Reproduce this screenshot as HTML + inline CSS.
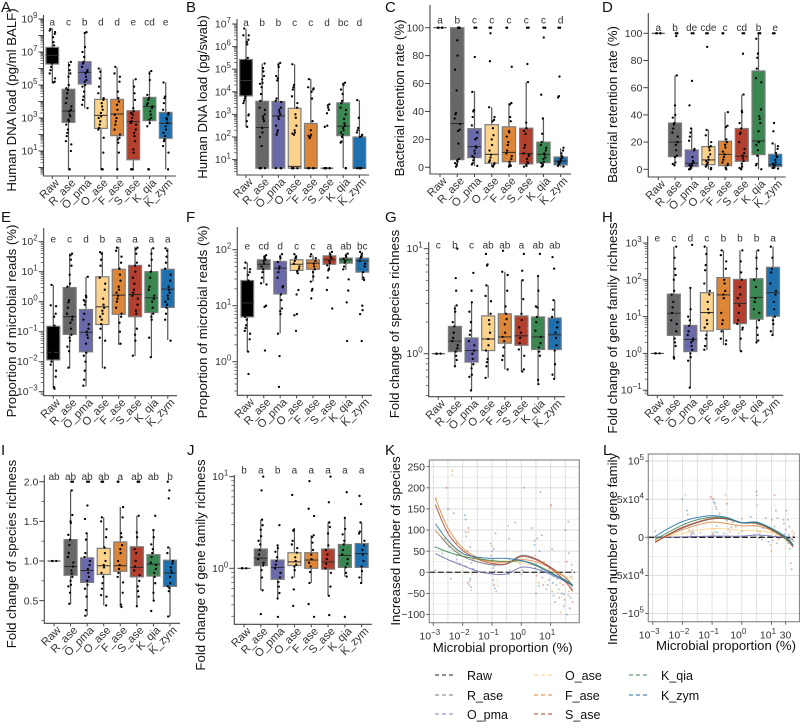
<!DOCTYPE html>
<html>
<head>
<meta charset="utf-8">
<title>Microbial enrichment boxplots</title>
<style>
html,body{margin:0;padding:0;background:#fff;}
svg{display:block;font-family:"Liberation Sans",sans-serif;}
.letter{font-size:15px;fill:#111;}
.title{font-size:13.2px;fill:#111;text-anchor:middle;}
.leg{font-size:12.5px;fill:#111;}
</style>
</head>
<body>
<svg id="chart" width="800" height="728" viewBox="0 0 800 728" xmlns="http://www.w3.org/2000/svg">
<rect width="800" height="728" fill="#fff"/>
<g id="marks"></g>
<text class="letter" x="1" y="12">A</text>
<text class="letter" x="186" y="12">B</text>
<text class="letter" x="385" y="12">C</text>
<text class="letter" x="602" y="12">D</text>
<text class="letter" x="1" y="222">E</text>
<text class="letter" x="186" y="222">F</text>
<text class="letter" x="385" y="222">G</text>
<text class="letter" x="602" y="222">H</text>
<text class="letter" x="1" y="455">I</text>
<text class="letter" x="187" y="455">J</text>
<text class="letter" x="385" y="455">K</text>
<text class="letter" x="603" y="455">L</text>

<text class="title" transform="translate(16,100) rotate(-90)">Human DNA load (pg/ml BALF)</text>
<text class="title" transform="translate(207,97) rotate(-90)">Human DNA load (pg/swab)</text>
<text class="title" transform="translate(404,98) rotate(-90)">Bacterial retention rate (%)</text>
<text class="title" transform="translate(617,104.5) rotate(-90)">Bacterial retention rate (%)</text>
<text class="title" transform="translate(16,321) rotate(-90)">Proportion of microbial reads (%)</text>
<text class="title" transform="translate(207,322) rotate(-90)">Proportion of microbial reads (%)</text>
<text class="title" transform="translate(399,324) rotate(-90)">Fold change of species richness</text>
<text class="title" transform="translate(617,328) rotate(-90)">Fold change of gene family richness</text>
<text class="title" transform="translate(16,554) rotate(-90)">Fold change of species richness</text>
<text class="title" transform="translate(205,565) rotate(-90)">Fold change of gene family richness</text>
<text class="title" transform="translate(400,541) rotate(-90)">Increased number of species</text>
<text class="title" transform="translate(617,549) rotate(-90)">Increased number of gene family</text>
<text class="title" x="502.7" y="652">Microbial proportion (%)</text>
<text class="title" x="726" y="650">Microbial proportion (%)</text>

<g>
<line x1="435" x2="455" y1="675" y2="675" stroke="#000" stroke-width="1.3" stroke-dasharray="4 3" opacity=".7"/>
<text class="leg" x="467" y="680">Raw</text>
<line x1="435" x2="455" y1="695" y2="695" stroke="#666" stroke-width="1.3" stroke-dasharray="4 3" opacity=".7"/>
<text class="leg" x="467" y="700">R_ase</text>
<line x1="435" x2="455" y1="714" y2="714" stroke="#6a6aab" stroke-width="1.3" stroke-dasharray="4 3" opacity=".7"/>
<text class="leg" x="467" y="719">O_pma</text>
<line x1="534" x2="554" y1="675" y2="675" stroke="#fdd28a" stroke-width="1.3" stroke-dasharray="4 3" opacity=".8"/>
<text class="leg" x="565" y="680">O_ase</text>
<line x1="534" x2="554" y1="695" y2="695" stroke="#dd8638" stroke-width="1.3" stroke-dasharray="4 3" opacity=".8"/>
<text class="leg" x="565" y="700">F_ase</text>
<line x1="534" x2="554" y1="714" y2="714" stroke="#b33f2e" stroke-width="1.3" stroke-dasharray="4 3" opacity=".8"/>
<text class="leg" x="565" y="719">S_ase</text>
<line x1="629" x2="649" y1="675" y2="675" stroke="#3b8752" stroke-width="1.3" stroke-dasharray="4 3" opacity=".8"/>
<text class="leg" x="661" y="680">K_qia</text>
<line x1="629" x2="649" y1="695" y2="695" stroke="#1f70ae" stroke-width="1.3" stroke-dasharray="4 3" opacity=".8"/>
<text class="leg" x="661" y="700">K_zym</text>
</g>
</svg>

<script>
const categories = ["Raw","R_ase","O_pma","O_ase","F_ase","S_ase","K_qia","K_zym"];
const groupColors = ["#000000","#67676a","#6a6aab","#fdd28a","#dd8638","#b33f2e","#3b8752","#1f70ae"];

/* Panel A, values are log10 */
const aLetters = ["a","c","b","d","d","e","cd","e"];
const aQ1 = [6.27,2.74,5.06,2.37,1.93,0.47,2.84,1.77];
const aMed = [6.8,3.42,5.77,3.16,3.24,2.78,3.69,2.68];
const aQ3 = [7.28,4.74,6.41,4.13,4.13,3.44,4.25,3.34];
const aLo = [5.14,-0.11,3.59,-0.11,-0.11,-0.11,2.6,-0.11];
const aHi = [8.43,6.41,8.17,6,6.07,5.34,5.85,5.16];
const aPoints = [
[8.4,8.3,8.2,8.1,7.9,7.6,7.4,7.2,6.9,6.6,6.3,6.1,5.9,5.7,5.4,5.2,5.15],
[6.4,6.2,5.9,5.7,5.5,5,4.8,4.7,4.5,4.2,3.9,3.7,3.5,3.4,3.2,3.1,2.9,2.8,2.6,2.3,2.1,1.9,1.6,1.4,1,-.11,-.11],
[8.2,8.15,7.3,7,6.7,6.4,6.3,6.1,5.9,5.8,5.7,5.5,5.3,5.2,5,4.9,4.6,4.3,4.1,3.8,3.6],
[6,5.8,5.4,4.9,4.5,4.2,4.1,3.9,3.7,3.5,3.3,3.1,3,2.8,2.6,2.4,2.3,1.8,.9,-.11,-.11,-.11],
[6.1,5.7,5.5,5.2,4.6,4.2,4,3.8,3.5,3.2,3,2.8,2.6,2.3,2,1.8,1.7,1.5,.9,-.11,-.11],
[5.35,4.9,4.5,4.1,3.6,3.4,3.3,3.2,3,2.8,2.7,2.6,2.3,2.1,1.9,1.6,1.1,.9,-.11,-.11,-.11],
[5.85,5.7,5.3,4.4,4.2,4.1,3.9,3.8,3.7,3.6,3.4,3.2,3,2.9,2.7,2.5,-.11,-.11],
[5.15,4.3,4.2,3.9,3.5,3.3,3.2,3,2.9,2.7,2.5,2.3,2.1,1.9,1.7,1.6,1.3,.9,-.11]];
const aTicks = [9,8,7,6,5,4,3,2,1,0];
const aTickLabels = ["9","","7","","5","","3","","1",""];

/* Panel B, log10 */
const bLetters = ["a","b","b","c","c","d","bc","d"];
const bQ1 = [3.82,.62,.62,.62,.62,.62,2.06,.62];
const bMed = [4.5,2.42,2.93,.7,.62,.62,2.48,.62];
const bQ3 = [5.43,3.58,3.57,3.27,2.6,.62,3.51,2];
const bLo = [2.45,.62,.62,.62,.62,.62,.62,.62];
const bHi = [6.78,5.25,5.28,5.22,4.56,.62,4.4,3.63];
const bPoints = [
[6.8,6.5,6.5,6.3,6.2,6.1,5.5,5.4,4.6,4.2,3.8,3.7,3.6,3.5,3.0,2.95,2.7,2.45],
[5.25,5.05,4.9,4.7,4.55,4.4,4.35,4.2,3.9,3.6,3.3,3.2,3,2.9,2.8,2.7,2.4,2.2,2,1.6,.62,.62,.62,.62],
[5.28,5.2,5.1,4.7,4.6,4.5,3.7,3.6,3.55,3.3,3.2,3.1,3,2.9,2.8,2.5,2.3,2.2,2.1,.62,.62,.62],
[5.22,4.3,4.2,4.1,3.8,3.5,3.3,3,2.85,2.5,2.3,2.2,2.15,2.1,.62,.62,.62,.62],
[4.56,4.2,4.15,4.1,4,3.7,2.7,2.3,2.1,2.05,2,1.95,.62,.62,.62,.62],
[3.45,3.4,3.3,3.2,3.05,2.5,2.45,.62,.62,.62,.62,.62,.62],
[4.4,4.35,4.3,4.1,3.9,3.6,3.5,3.3,3.2,3,2.8,2.6,2.5,2.4,2.3,2.2,2.1,2,1.8,1.75,.62,.62],
[3.63,2.85,2.4,2.3,2.2,2.1,2.05,2,.62,.62,.62,.62,.62]];
const bTicks = [7,6,5,4,3,2,1];
const bTickLabels = ["7","6","5","4","3","2","1"];

/* Panel C, percent */
const cLetters = ["a","b","c","c","c","c","c","d"];
const cQ1 = [100,5.5,6.9,2.9,4,2.4,3.3,1.7];
const cMed = [100,31.3,14.8,9.3,10.7,9.8,9.3,4.5];
const cQ3 = [100,100,27.7,30.5,29,28,18,7.4];
const cLo = [100,.5,1,.5,.5,.5,.5,.5];
const cHi = [100,100,54.6,43,46,61,35,13.6];
const cPoints = [
[100,100,100,100],
[100,100,100,100,91,80,70,55,39,38,35,31,27,26,17,6,5,4,3,2,.5],
[100,100,79,54,41,40,36,30,25,21,20,15,14,12,10,8,7,5,3,2,1],
[100,100,96,76,43,36,34,33,28,23,20,16,12,9,7,5,4,3,2,1,.5],
[100,100,72,46,45,36,33,26,25,22,18,16,12,10,8,6,4,2,1,.5],
[100,100,74,61,32,28,26,24,16,14,10,9,8,6,4,3,2,1,.5],
[100,100,93,52,35,24,18,16,14,12,10,9,7,6,4,3,2,1,.5],
[100,100,65,51,50,14,12,10,8,7,6,5,4,4,3,2,1,.5]];
const cTicks = [100,80,60,40,20,0];
const cTickLabels = ["100","80","60","40","20","0"];

/* Panel D, percent */
const dLetters = ["a","b","de","cde","c","cd","b","e"];
const dQ1 = [100,9.3,2,3.4,2.7,5.9,10.8,2];
const dMed = [100,20,4.4,6.9,11,9.6,20.8,3.4];
const dQ3 = [100,34,14.2,16.7,20.6,30,72.3,11];
const dLo = [100,3.2,0,0,.5,0,0,.5];
const dHi = [100,69,30,29,42,55,100,19];
const dPoints = [
[100,100,100,100],
[100,100,98,69,47,40,38,34,33,30,27,24,20,18,14,10,9,5,4,3],
[100,100,65,47,30,27,24,21,15,14,9,6,5,4,3,3,2,1,0,0],
[100,100,90,29,25,20,17,16,14,11,9,7,6,5,4,3,2,1,0],
[100,100,42,32,31,22,20,18,16,13,11,9,7,5,4,3,1,0],
[100,100,85,55,43,42,34,30,27,26,20,15,12,10,8,6,4,2,1,0],
[100,100,100,96,85,82,74,67,64,44,39,37,34,28,20,18,14,10,4,3,0],
[100,100,34,28,19,17,15,12,10,9,7,5,4,3,2,1,1,.5]];
const dTicks = [100,80,60,40,20,0];
const dTickLabels = ["100","80","60","40","20","0"];

/* Panel E, log10 */
const eLetters = ["e","c","d","b","a","a","a","a"];
const eQ1 = [-1.94,-1.09,-1.67,-.76,-.42,-.5,-.36,-.19];
const eMed = [-1.69,-.5,-1.02,-.17,.22,.24,.13,.42];
const eQ3 = [-.82,.47,-.26,.83,1.08,1.21,1,1.08];
const eLo = [-2.89,-2.22,-2.83,-2.22,-1.44,-1.81,-1.83,-1.28];
const eHi = [.56,1.61,.83,1.67,1.83,1.83,1.78,1.78];
const ePoints = [
[.56,-.12,-.15,-.4,-.5,-.8,-1,-1.2,-1.5,-1.6,-1.7,-1.9,-2,-2.1,-2.3,-2.5,-2.85,-2.9],
[1.6,1.55,1.4,1.2,.9,.6,.5,.05,-.02,-.2,-.4,-.5,-.6,-.7,-.9,-1.1,-1.2,-1.3,-1.5,-1.65,-2.2],
[.83,.2,.15,.05,0,-.1,-.4,-.6,-.75,-.9,-1,-1.1,-1.2,-1.4,-1.7,-1.8,-2,-2.3,-2.6,-2.8],
[1.65,1.6,1.4,1.2,.8,.6,.4,.1,-.1,-.2,-.3,-.4,-.5,-.6,-.75,-.9,-1.2,-1.3,-2.2],
[1.8,1.7,1.5,1.3,1.1,.9,.7,.5,.4,.3,.2,.1,0,-.2,-.4,-.5,-.7,-1,-1.4],
[1.8,1.75,1.6,1.3,1.2,1,.8,.6,.4,.3,.2,.1,-.1,-.3,-.4,-.9,-1.1,-1.3,-1.8],
[1.78,1.6,1.4,1.2,1,.8,.5,.4,.2,.1,0,-.2,-.4,-.5,-.6,-1.2,-1.85],
[1.78,1.7,1.5,1.3,1.1,.9,.7,.5,.4,.3,.2,.1,0,-.1,-.2,-.4,-.6,-1.3]];
const eTicks = [2,1,0,-1,-2,-3];
const eTickLabels = ["2","1","0","\u22121","\u22122","\u22123"];

/* Panel F, log10 */
const fLetters = ["e","cd","d","c","c","a","ab","bc"];
const fQ1 = [.8,1.65,1.21,1.63,1.65,1.74,1.76,1.6];
const fMed = [1.05,1.74,1.67,1.74,1.76,1.82,1.82,1.8];
const fQ3 = [1.45,1.82,1.79,1.82,1.82,1.89,1.85,1.85];
const fLo = [.18,1.4,.51,1.58,1.43,1.63,1.64,1.46];
const fHi = [1.77,1.88,1.9,1.9,1.9,1.96,1.93,1.96];
const fPoints = [
[1.77,1.67,1.65,1.6,1.55,1.45,1.3,1.1,.9,.8,.75,.65,.6,.55,.5,.4,.18,-.22],
[1.9,1.88,1.85,1.82,1.8,1.75,1.7,1.65,1.6,1.5,1.4,1.38,1,.98,.2],
[1.92,1.88,1.85,1.78,1.7,1.66,1.6,1.5,1.35,1.33,1.2,1.1,.95,.9,.85,.5,.1,-.45],
[1.92,1.88,1.85,1.8,1.75,1.7,1.66,1.62,1.58,1.28,1.2,.85,.83,.55],
[1.92,1.88,1.85,1.8,1.75,1.7,1.65,1.6,1.52,1.43,1.3,1.27,1.13],
[1.96,1.92,1.88,1.85,1.8,1.76,1.72,1.66,1.63,1.5,1.28,.95],
[1.93,1.9,1.87,1.84,1.8,1.77,1.7,1.65,1.47,1.27,1.06,.37],
[1.96,1.92,1.88,1.85,1.8,1.75,1.7,1.6,1.5,1.46,1.0,.92,.85,.37]];
const fTicks = [2,1,0];
const fTickLabels = ["2","1","0"];

/* Panel G, log10 */
const gLetters = ["c","b","c","ab","ab","a","ab","ab"];
const gQ1 = [0,.02,-.08,.03,.1,.08,.04,.04];
const gMed = [0,.12,.03,.14,.16,.17,.16,.18];
const gQ3 = [0,.26,.15,.36,.38,.36,.35,.34];
const gLo = [0,-.12,-.35,-.23,-.15,-.17,-.29,-.24];
const gHi = [0,.46,.49,.65,.78,.7,.74,.51];
const gPoints = [
[0,0,0],
[1,.72,.6,.46,.43,.4,.3,.26,.2,.15,.12,.08,.05,.02,-.02,-.06,-.12],
[.77,.6,.49,.4,.3,.22,.18,.12,.08,.03,0,-.05,-.1,-.14,-.2,-.22,-.35],
[.95,.85,.84,.65,.55,.5,.38,.32,.28,.2,.14,.08,.03,-.05,-.08,-.12,-.23],
[.98,.78,.75,.6,.45,.38,.33,.28,.2,.16,.12,.06,-.02,-.06,-.15],
[.95,.79,.7,.52,.38,.32,.25,.2,.15,.1,.04,-.02,-.15,-.17],
[.95,.74,.6,.45,.44,.35,.3,.22,.16,.1,.06,.02,-.02,-.25,-.29],
[.92,.81,.51,.42,.35,.3,.25,.2,.15,.08,.03,-.1,-.2,-.24]];
const gTicks = [1,0];
const gTickLabels = ["1","0"];

/* Panel H, log10 */
const hLetters = ["e","c","d","c","b","b","b","a"];
const hQ1 = [0,.49,.05,.61,.65,.81,.93,1.01];
const hMed = [0,1.09,.38,1.11,1.59,1.36,1.52,1.65];
const hQ3 = [0,1.61,.76,1.65,2.06,2.01,2.03,2.34];
const hLo = [0,-.14,-.93,.09,.23,.06,.29,.47];
const hHi = [0,2.9,1.78,2.9,2.8,2.8,2.8,2.9];
const hPoints = [
[0,0,0],
[2.9,2.6,2.3,2.13,2,1.7,1.6,1.4,1.25,1.1,.9,.8,.6,.4,.3,.2,-.1,-.14],
[2.95,1.78,1.2,1,.9,.75,.6,.5,.4,.35,.3,.2,.1,0,-.1,-.2,-.93],
[2.9,2.7,2.4,2.26,1.9,1.7,1.6,1.4,1.2,1.1,.9,.8,.7,.5,.4,.2,.1],
[2.8,2.67,2.5,2.3,2,1.9,1.7,1.6,1.5,1.1,.9,.8,.6,.4,.35,.25],
[2.8,2.5,2.2,2,1.8,1.6,1.5,1.3,1.1,.9,.8,.7,.65,.4,.06],
[2.8,2.6,2.3,2,1.8,1.5,1.4,1.2,1.1,.9,.7,.5,.35,.3],
[2.9,2.6,2.3,2.2,1.9,1.7,1.6,1.4,1.2,1,.9,.8,.6,.5]];
const hTicks = [3,2,1,0,-1];
const hTickLabels = ["3","2","1","0","\u22121"];

/* Panel I, fold change */
const iLetters = ["ab","ab","ab","ab","a","ab","ab","b"];
const iQ1 = [1,.82,.73,.83,.87,.8,.81,.68];
const iMed = [1,.93,.88,.94,.94,.92,.96,.85];
const iQ3 = [1,1.27,1.04,1.16,1.24,1.18,1.08,1.01];
const iLo = [1,.46,.31,.44,.42,.42,.5,.3];
const iHi = [1,1.89,1.35,1.55,1.68,1.57,1.39,1.17];
const iPoints = [
[1,1,1],
[2,2,1.89,1.58,1.5,1.48,1.33,1.27,1.2,1.1,1.05,.98,.93,.88,.84,.8,.75,.7,.68,.6,.46],
[2,2,1.7,1.53,1.35,1.27,1.1,1.05,1,.95,.9,.85,.8,.75,.7,.65,.55,.38,.31],
[2,2,2,1.55,1.5,1.4,1.3,1.17,1.1,1,.95,.92,.85,.8,.72,.65,.57,.55,.44],
[2,2,1.68,1.55,1.35,1.3,1.2,1.15,1.1,1,.95,.9,.85,.8,.73,.6,.45,.42],
[2,2,2,1.57,1.36,1.3,1.15,1.1,1,.93,.88,.82,.75,.68,.62,.55,.43],
[1.57,1.39,1.3,1.21,1.15,1.1,1.05,.98,.95,.9,.85,.8,.72,.6,.5,.37],
[2,1.89,1.79,1.17,1.1,1,.97,.92,.88,.85,.8,.72,.68,.66,.62,.3]];
const iTicks = [2,1.5,1,.5];
const iTickLabels = ["2.0","1.5","1.0","0.5"];

/* Panel J, log10 */
const jLetters = ["b","a","b","a","a","a","a","a"];
const jQ1 = [0,.03,-.12,.03,0,-.01,.01,.01];
const jMed = [0,.11,.01,.07,.09,.07,.14,.16];
const jQ3 = [0,.21,.09,.17,.17,.21,.26,.27];
const jLo = [0,-.24,-.33,-.1,-.16,-.3,-.09,-.16];
const jHi = [0,.53,.25,.44,.36,.5,.55,.5];
const jPoints = [
[0,0,0],
[1.0,.85,.53,.47,.42,.35,.3,.26,.2,.15,.1,.06,.03,-.02,-.1,-.24,-.5],
[.47,.25,.22,.18,.12,.08,.04,0,-.05,-.1,-.15,-.2,-.27,-.33,-.53],
[.8,.42,.41,.3,.26,.22,.17,.12,.08,.04,.02,-.02,-.1,-.23,-.41],
[.95,.65,.57,.36,.34,.28,.2,.15,.1,.06,.02,-.04,-.16,-.39,-.53],
[1,.72,.5,.45,.38,.25,.2,.15,.1,.05,0,-.05,-.2,-.3,-.51],
[.83,.55,.43,.37,.3,.26,.2,.15,.1,.05,.01,-.05,-.09,-.53],
[.79,.7,.5,.4,.38,.3,.25,.2,.15,.08,.02,-.03,-.1,-.16]];
const jTicks = [1,0];
const jTickLabels = ["1","0"];

/* Panel K: fitted curves, by group, at the shared x grid (log10 %) */
const kGridExp = [-2.93,-2.5,-2,-1.5,-1,-.5,0,.5,1,1.5,1.75];
const kRaw = [0,0,0,0,0,0,0,0,0,0,0];
const kRase = [100,65,38,25,18,20,40,32,12,-12,-32];
const kOpma = [44,30,16,3,-4,-4,12,8,-5,-22,-33];
const kOase = [100,70,42,30,26,27,22,15,3,-10,-15];
const kFase = [175,105,58,35,25,24,30,25,10,-12,-32];
const kSase = [160,92,52,32,21,20,37,30,10,-22,-45];
const kKqia = [60,48,38,32,28,25,27,18,0,-20,-32];
const kKzym = [115,75,45,36,33,33,28,16,-2,-18,-30];
/* Panel K scatter rows: log10 %, value, group index */
const kScatter = [
[-2.93,215,3],[-2.93,100,3],[-2.93,60,6],[-2.93,30,3],[-2.93,5,2],[-2.9,95,4],[-2.9,175,4],[-2.55,200,5],[-2.5,150,7],[-2.5,95,4],[-2.45,60,1],[-2.4,-15,2],[-2.3,140,7],[-2.3,115,3],[-2.2,70,1],[-2.2,40,6],
[-2.35,240,4],[-2.35,230,4],[-2.6,80,5],[-2.7,45,6],[-2.2,30,2],[-2.1,20,1],[-2,5,3],
[-1.95,175,3],[-1.92,135,7],[-1.9,125,7],[-1.9,95,1],[-1.88,85,6],[-1.8,105,5],[-1.8,95,4],[-1.75,60,1],[-1.75,40,3],[-1.75,-20,2],[-1.72,-35,1],[-1.7,-42,4],[-1.7,22,7],[-1.65,8,2],[-1.9,15,5],[-1.85,50,6],
[-1.82,-25,5],[-1.78,-30,2],[-1.74,-15,7],[-1.7,70,3],[-1.68,-5,4],[-1.66,30,1],[-1.62,5,6],
[-1.05,68,7],[-1.03,140,3],[-1,62,4],[-1,50,2],[-.97,30,6],[-.95,10,1],[-.95,-10,3],[-.93,-30,5],[-.9,-38,7],[-.88,92,7],[-.85,-45,2],[-.8,-32,4],[-.6,48,3],
[-1.02,40,5],[-1,22,3],[-.98,-2,7],[-.96,-18,1],[-.94,55,1],[-.92,15,6],[-.9,3,2],[-.84,-20,3],
[-.45,110,4],[-.42,80,5],[-.4,30,7],[-.38,5,2],[-.2,118,7],[-.15,48,3],[0,-5,1],[.1,200,1],[.35,105,7],[.45,75,2],
[-.42,-5,6],[-.38,15,3],[-.05,20,4],[.05,5,7],
[.45,65,7],[.47,40,4],[.5,20,1],[.5,-20,3],[.5,-50,2],[.55,80,6],[.6,-25,4],[.6,-32,7],[.65,190,5],[.7,88,1],[.7,65,3],[.75,-30,5],[.85,-40,2],[.95,-18,7],
[.48,10,6],[.52,-8,5],[.56,30,3],[.62,50,7],[.68,5,2],[.72,-12,1],[.78,25,4],[.82,-22,3],[.9,-30,6],[.95,8,5],
[1,155,4],[1.02,160,5],[1.05,55,7],[1.05,-45,4],[1.1,-10,6],[1.1,-55,1],[1.15,-70,5],[1.2,-30,2],[1.25,-48,3],[1.3,-60,5],[1.35,-95,4],[1.4,40,3],[1.45,-52,7],[1.45,-80,2],[1.5,100,7],[1.55,25,5],[1.55,-100,7],[1.6,120,7],[1.6,-55,1],[1.62,45,6],[1.65,-85,5],[1.65,-20,3],[1.7,-35,2],[1.72,5,5],[1.75,-70,5],[1.75,-15,3],
[1.08,-25,7],[1.14,-38,3],[1.22,-15,1],[1.28,-40,6],[1.32,-25,4],[1.38,-50,7],[1.42,-30,5],[1.48,-65,1],[1.52,-42,3],[1.58,-25,2],[1.62,-45,4],[1.68,-60,7],[1.7,-10,6],[1.72,18,1],[1.74,-40,4]];
const kYTicks = [250,200,150,100,50,0,-50,-100];
const kYGrid = [250,225,200,175,150,125,100,75,50,25,0,-25,-50,-75,-100];
const kYTickLabels = ["250","200","150","100","50","0","\u221250","\u2212100"];
const kXTicks = [-3,-2,-1,0,1];
const kXGrid = [-3,-2.5,-2,-1.5,-1,-.5,0,.5,1,1.5];
const kXTickLabels = ["\u22123","\u22122","\u22121","0","1"];

/* Panel L: fitted curves (units of 10^4 genes) */
const lGridExp = [-2.92,-2.5,-2,-1.5,-1,-.5,0,.5,1,1.5,1.73];
const lRaw = [0,0,0,0,0,0,0,0,0,0,0];
const lRase = [-.5,.3,1.2,1.9,2.4,2.4,1.9,1.9,1.1,-.1,-1.1];
const lOpma = [-.05,0,.05,.1,.15,.15,.15,.3,.15,-.1,-.3];
const lOase = [-.4,.1,.5,.9,1.15,1.1,.9,.9,.6,-.1,-.5];
const lFase = [-.6,.2,1,1.6,2,1.8,1.5,1.5,.9,-.2,-1];
const lSase = [-.7,.3,1.3,2,2.5,2.4,1.9,1.8,1,-.3,-1.3];
const lKqia = [-.3,.6,1.6,2.3,2.65,2.5,1.9,1.9,1.1,-.2,-1.1];
const lKzym = [.1,1.1,2.06,2.6,2.85,2.6,1.93,2,1.18,0,-1];
/* Panel L scatter rows: log10 %, value (10^4), group index */
const lScatter = [
[-2.92,.8,7],[-2.9,.1,2],[-2,5,7],[-1.9,5.6,4],[-1.85,3.5,7],[-1.82,3,1],[-1.8,1.5,3],[-1.75,.8,6],[-1.7,.4,1],[-1.65,.9,5],[-1.6,.1,2],[-1.9,1.8,7],[-1.5,1.2,3],[-1.4,.6,2],
[-1.85,.3,3],[-1.78,1,4],[-1.72,.15,2],[-1.68,.6,7],[-1.62,.5,1],[-1.55,.2,3],
[-1.05,5.3,5],[-1,5.1,4],[-.95,5,1],[-.93,4.6,7],[-.9,4.4,6],[-.88,4,1],[-.85,3.7,7],[-.82,3.3,3],[-.75,3.1,5],[-1,.9,3],[-.95,.3,2],[-.9,.7,6],[-.85,1.5,1],[-.55,5.6,4],[-.52,5,3],[-.5,4.4,5],[-.5,2.2,1],[-.45,1,2],[-.3,2,7],[-.3,.2,3],
[-1.02,.15,1],[-.98,.5,5],[-.92,1.1,4],[-.88,.2,3],[-.82,.6,7],[-.78,.1,6],[-.6,.5,2],[-.4,.7,4],[-.35,1.3,5],
[-.2,1.4,6],[-.1,.5,4],[0,2.4,4],[0,.8,2],[.2,3,3],[.3,2.7,7],[.4,1.5,5],[.5,6,7],[.5,5.5,1],[.52,4.2,4],[.55,3,3],[.55,.8,2],[.6,.4,6],[.65,.1,5],
[.42,.3,1],[.48,1,3],[.54,1.8,6],[.58,-.1,7],[.62,.7,4],[.68,-.3,1],[.72,1.2,2],
[.8,2.5,7],[.85,.6,3],[.9,-.6,7],[.95,-1,4],[1,-1.8,4],[1.02,2.3,1],[1.05,-.4,2],[1.1,1.4,6],[1.1,5.5,5],[1.12,4.2,3],[1.15,3.5,7],[1.2,2.5,6],[1.2,.4,2],[1.25,-.2,5],
[.92,.2,5],[.98,1.1,3],[1.04,.7,6],[1.08,-.2,3],[1.14,.2,4],[1.18,-.8,1],
[1.4,2.3,7],[1.42,1.8,1],[1.45,-1.4,3],[1.5,3.5,7],[1.52,3,3],[1.55,2.3,5],[1.55,-.8,2],[1.6,1.4,1],[1.62,-1.5,6],[1.65,-3.4,5],[1.68,-4.2,5],[1.7,.8,4],[1.72,.2,3],[1.73,-.5,7],[1.75,.5,4],
[1.44,.4,2],[1.48,1,5],[1.52,-.4,6],[1.58,.3,7],[1.62,.5,3],[1.66,-.7,4],[1.7,-.2,1],[1.74,.1,5]];
const lYTicks = [1,0.5,0,-0.5,-1];
const lYMajorGrid = [1,.5,0,-.5,-1];
const lYMinorGrid = [.75,.25,-.25,-.75];
const lXTicks = [-3,-2,-1,0,1,1.477];
const lXGrid = [-3,-2.5,-2,-1.5,-1,-.5,0,.5,1,1.477];
const lXTickLabels = ["\u22123","\u22122","\u22121","0","1",""];

/* Jitter pattern (px) applied horizontally to dots */
const jitterPattern = [-1.8,1.2,-.6,2.4,.3,-2.6,1.8,-1.2,.8,-2.2,2.8,0];

const NS = "http://www.w3.org/2000/svg";
const root = document.getElementById("marks");
function make(tag, attrs, parent) {
  const node = document.createElementNS(NS, tag);
  for (const k in attrs) node.setAttribute(k, attrs[k]);
  parent.appendChild(node);
  return node;
}
function slug(s) { return s.toLowerCase().replace(/_/g, "-"); }

function powerLabel(x, y, exp, anchor, parent, name) {
  const t = make("text", {x: x, y: y, "text-anchor": anchor, "font-size": 10.5, fill: "#333"}, parent);
  
  
  t.appendChild(document.createTextNode("10"));
  const s = make("tspan", {dy: -4.5, "font-size": 8}, t);
  s.textContent = exp;
  return t;
}

function drawBoxPanel(id, g, d) {
  const panel = make("g", {}, root);
  
  
  const yS = v => g.y0 + (g.v0 - v) * g.k;
  const xS = i => g.x0 + i * g.dx;

  const axisY = make("line", {x1: g.left, x2: g.left, y1: g.top, y2: g.bottom, stroke: "#444", "stroke-width": 1.1}, panel);
  
  
  const axisX = make("line", {x1: g.left - .5, x2: g.right, y1: g.bottom, y2: g.bottom, stroke: "#444", "stroke-width": 1.1}, panel);
  
  

  if (g.log) {
    const hi = Math.ceil(g.vTop);
    const lo = Math.floor(g.vBottom);
    for (let e = lo; e < hi; e++) {
      for (let m = 2; m < 10; m++) {
        const v = e + Math.log10(m);
        const py = yS(v);
        if (py < g.top || py > g.bottom) continue;
        const mt = make("line", {x1: g.left - 3, x2: g.left, y1: py, y2: py, stroke: "#444", "stroke-width": .7}, panel);
        
        
      }
    }
  } else if (g.minorStep) {
    for (let v = g.vBottomTick; v <= g.vTop + 1e-9; v += g.minorStep) {
      const py = yS(v);
      if (py < g.top || py > g.bottom) continue;
      const mt = make("line", {x1: g.left - 3, x2: g.left, y1: py, y2: py, stroke: "#444", "stroke-width": .7}, panel);
      
      
    }
  }

  d.ticks.forEach((v, n) => {
    const py = yS(v);
    const tk = make("line", {x1: g.left - 5, x2: g.left, y1: py, y2: py, stroke: "#444", "stroke-width": 1}, panel);
    
    
    const lab = d.tickLabels[n];
    if (lab === "") return;
    if (g.log) {
      powerLabel(g.left - 6, py + 3.5, lab, "end", panel, "y-tick-label");
    } else {
      const t = make("text", {x: g.left - 6, y: py + 3.6, "text-anchor": "end", "font-size": 10.5, fill: "#333"}, panel);
      
      
      t.textContent = lab;
    }
  });

  categories.forEach((c, i) => {
    const cx = xS(i);
    const gn = slug(c);
    const tk = make("line", {x1: cx, x2: cx, y1: g.bottom, y2: g.bottom + 3, stroke: "#444", "stroke-width": 1}, panel);
    
    
    const lb = make("text", {transform: "translate(" + (cx + 7.5) + "," + (g.bottom + 7.5) + ") rotate(-45)", "text-anchor": "end", "font-size": 11.2, fill: "#333"}, panel);
    
    
    lb.textContent = c;

    const wh = make("line", {x1: cx, x2: cx, y1: yS(d.hi[i]), y2: yS(d.lo[i]), stroke: "#5a5a5a", "stroke-width": 1.25}, panel);
    
    

    const top = yS(d.q3[i]);
    const bot = yS(d.q1[i]);
    if (bot - top > .2) {
      const box = make("rect", {x: cx - g.bw / 2, y: top, width: g.bw, height: bot - top, fill: groupColors[i], stroke: "#7c7c7c", "stroke-width": 1.2}, panel);
      
      
    }
    const md = make("line", {x1: cx - g.bw / 2, x2: cx + g.bw / 2, y1: yS(d.med[i]), y2: yS(d.med[i]), stroke: i === 0 ? "#333" : "#2b2b2b", "stroke-width": 1}, panel);
    
    

    d.points[i].forEach((v, n) => {
      const jit = jitterPattern[(n * 5 + i * 3) % jitterPattern.length] * (i === 0 && d.q1[0] === d.q3[0] ? .8 : 1);
      const dot = make("circle", {cx: cx + jit, cy: yS(v), r: 1.15, fill: "#000"}, panel);
      
      
    });

    const sig = make("text", {x: cx, y: g.letterY + 3.5, "text-anchor": "middle", "font-size": 10, fill: "#333"}, panel);
    
    
    sig.textContent = d.letters[i];
  });
}

function smoothPath(pts) {
  let p = "M" + pts[0][0].toFixed(2) + "," + pts[0][1].toFixed(2);
  for (let i = 0; i < pts.length - 1; i++) {
    const a = pts[Math.max(0, i - 1)], b = pts[i], c = pts[i + 1], e = pts[Math.min(pts.length - 1, i + 2)];
    const c1x = b[0] + (c[0] - a[0]) / 6, c1y = b[1] + (c[1] - a[1]) / 6;
    const c2x = c[0] - (e[0] - b[0]) / 6, c2y = c[1] - (e[1] - b[1]) / 6;
    p += "C" + c1x.toFixed(2) + "," + c1y.toFixed(2) + " " + c2x.toFixed(2) + "," + c2y.toFixed(2) + " " + c[0].toFixed(2) + "," + c[1].toFixed(2);
  }
  return p;
}

function drawTrendPanel(id, g, d) {
  const panel = make("g", {}, root);
  
  
  const xS = e => g.x0 + (e - g.e0) * g.kx;
  const yS = v => g.y0 + (g.v0 - v) * g.ky;

  d.yMinor.forEach(v => {
    const gl = make("line", {x1: g.left, x2: g.right, y1: yS(v), y2: yS(v), stroke: "#ececec", "stroke-width": .8}, panel);
    
    
  });
  d.yMajor.forEach(v => {
    const gl = make("line", {x1: g.left, x2: g.right, y1: yS(v), y2: yS(v), stroke: "#dddddd", "stroke-width": 1}, panel);
    
    
  });
  d.xGrid.forEach(e => {
    const gl = make("line", {x1: xS(e), x2: xS(e), y1: g.top, y2: g.bottom, stroke: "#dddddd", "stroke-width": .9}, panel);
    
    
  });

  d.scatter.forEach(row => {
    const dot = make("circle", {cx: xS(row[0]), cy: yS(row[1]), r: 1, fill: groupColors[row[2]], opacity: .42}, panel);
    
    
  });

  d.curves.forEach((vals, i) => {
    const pts = d.grid.map((e, n) => [xS(e), yS(vals[n])]);
    const attrs = {d: smoothPath(pts), fill: "none", stroke: groupColors[i], "stroke-width": 1, opacity: .85};
    if (i === 0) {
      attrs.d = "M" + g.left + "," + yS(vals[0]) + "L" + g.rawEnd + "," + yS(vals[vals.length - 1]);
      attrs["stroke-dasharray"] = "6 2.5";
      attrs.stroke = id === "l" ? "#000" : "#222";
      attrs["stroke-width"] = 1.4;
    }
    const line = make("path", attrs, panel);
    
    
  });

  const frame = make("rect", {x: g.left, y: g.top, width: g.right - g.left, height: g.bottom - g.top, fill: "none", stroke: "#8c8c8c", "stroke-width": 1.2}, panel);
  
  

  d.yTicks.forEach(v => {
    const tk = make("line", {x1: g.left - 3, x2: g.left, y1: yS(v), y2: yS(v), stroke: "#555", "stroke-width": .9}, panel);
    
    
  });
  d.xTicks.forEach((e, n) => {
    const tk = make("line", {x1: xS(e), x2: xS(e), y1: g.bottom, y2: g.bottom + 3, stroke: "#555", "stroke-width": .9}, panel);
    
    
    if (d.xLabels[n] !== "") {
      powerLabel(xS(e) - 3.5, g.bottom + 17, d.xLabels[n], "middle", panel, "x-tick-label");
    }
  });
}

const boxGeometry = {
  a: {left: 43.5, right: 176, top: 15, bottom: 176, x0: 52.3, dx: 16.2, bw: 12.7, y0: 19, v0: 9, k: 16.5, log: true, vTop: 9, vBottom: -1, letterY: 22},
  b: {left: 237, right: 369, top: 19, bottom: 175, x0: 246, dx: 16.2, bw: 12.7, y0: 24, v0: 7, k: 22.6, log: true, vTop: 7, vBottom: 0, letterY: 22.7},
  c: {left: 430, right: 571, top: 5, bottom: 174, x0: 440, dx: 17.24, bw: 13.3, y0: 27.7, v0: 100, k: 1.396, letterY: 20},
  d: {left: 648.3, right: 785.7, top: 13, bottom: 177, x0: 658.3, dx: 16.7, bw: 13, y0: 33.3, v0: 100, k: 1.36, letterY: 27.7},
  e: {left: 43.7, right: 177, top: 228, bottom: 395.7, x0: 53.3, dx: 16.35, bw: 13, y0: 241.7, v0: 2, k: 30, log: true, vTop: 2, vBottom: -4, letterY: 239},
  f: {left: 237.3, right: 372, top: 227, bottom: 395.3, x0: 247.3, dx: 16.43, bw: 12.7, y0: 249.7, v0: 2, k: 56, log: true, vTop: 2, vBottom: -1, letterY: 246},
  g: {left: 428.7, right: 565, top: 242, bottom: 396.7, x0: 438.3, dx: 16.63, bw: 13, y0: 248.7, v0: 1, k: 105, log: true, vTop: 1, vBottom: -1, letterY: 245},
  h: {left: 647.7, right: 783.3, top: 236, bottom: 395.3, x0: 657.3, dx: 16.53, bw: 13, y0: 243, v0: 3, k: 36.8, log: true, vTop: 3, vBottom: -2, letterY: 238},
  i: {left: 44.3, right: 180, top: 475, bottom: 623.3, x0: 54, dx: 16.57, bw: 13, y0: 561, v0: 1, k: 79.3, minorStep: .25, vBottomTick: .25, vTop: 2.25, letterY: 476.7},
  j: {left: 234.3, right: 372, top: 475, bottom: 624.3, x0: 244, dx: 16.81, bw: 13, y0: 568.3, v0: 0, k: 91.7, log: true, vTop: 1, vBottom: -1, letterY: 470}
};

drawBoxPanel("a", boxGeometry.a, {letters: aLetters, q1: aQ1, med: aMed, q3: aQ3, lo: aLo, hi: aHi, points: aPoints, ticks: aTicks, tickLabels: aTickLabels});
drawBoxPanel("b", boxGeometry.b, {letters: bLetters, q1: bQ1, med: bMed, q3: bQ3, lo: bLo, hi: bHi, points: bPoints, ticks: bTicks, tickLabels: bTickLabels});
drawBoxPanel("c", boxGeometry.c, {letters: cLetters, q1: cQ1, med: cMed, q3: cQ3, lo: cLo, hi: cHi, points: cPoints, ticks: cTicks, tickLabels: cTickLabels});
drawBoxPanel("d", boxGeometry.d, {letters: dLetters, q1: dQ1, med: dMed, q3: dQ3, lo: dLo, hi: dHi, points: dPoints, ticks: dTicks, tickLabels: dTickLabels});
drawBoxPanel("e", boxGeometry.e, {letters: eLetters, q1: eQ1, med: eMed, q3: eQ3, lo: eLo, hi: eHi, points: ePoints, ticks: eTicks, tickLabels: eTickLabels});
drawBoxPanel("f", boxGeometry.f, {letters: fLetters, q1: fQ1, med: fMed, q3: fQ3, lo: fLo, hi: fHi, points: fPoints, ticks: fTicks, tickLabels: fTickLabels});
drawBoxPanel("g", boxGeometry.g, {letters: gLetters, q1: gQ1, med: gMed, q3: gQ3, lo: gLo, hi: gHi, points: gPoints, ticks: gTicks, tickLabels: gTickLabels});
drawBoxPanel("h", boxGeometry.h, {letters: hLetters, q1: hQ1, med: hMed, q3: hQ3, lo: hLo, hi: hHi, points: hPoints, ticks: hTicks, tickLabels: hTickLabels});
drawBoxPanel("i", boxGeometry.i, {letters: iLetters, q1: iQ1, med: iMed, q3: iQ3, lo: iLo, hi: iHi, points: iPoints, ticks: iTicks, tickLabels: iTickLabels});
drawBoxPanel("j", boxGeometry.j, {letters: jLetters, q1: jQ1, med: jMed, q3: jQ3, lo: jLo, hi: jHi, points: jPoints, ticks: jTicks, tickLabels: jTickLabels});

drawTrendPanel("k",
  {left: 429.3, right: 579.3, top: 460, bottom: 622.7, x0: 433.3, e0: -3, kx: 29.33, y0: 572.3, v0: 0, ky: .4225, rawEnd: 575},
  {grid: kGridExp, curves: [kRaw, kRase, kOpma, kOase, kFase, kSase, kKqia, kKzym], scatter: kScatter,
   yTicks: kYTicks, yMajor: kYTicks, yMinor: kYGrid, xTicks: kXTicks, xGrid: kXGrid, xLabels: kXTickLabels});

drawTrendPanel("l",
  {left: 648.3, right: 799.5, top: 454, bottom: 621.7, x0: 652.7, e0: -3, kx: 29.7, y0: 537.3, v0: 0, ky: 76.2, rawEnd: 795},
  {grid: lGridExp, curves: [lRaw, lRase, lOpma, lOase, lFase, lSase, lKqia, lKzym].map(a => a.map(v => v / 10)), scatter: lScatter.map(r => [r[0], r[1] / 10, r[2]]),
   yTicks: lYTicks, yMajor: lYMajorGrid, yMinor: lYMinorGrid, xTicks: lXTicks, xGrid: lXGrid, xLabels: lXTickLabels});

/* Panel L custom y labels and the "30" x label */
const lYLabelRows = [[1,"10","5"],[.5,"5x10","4"],[0,"0",""],[-.5,"\u22125x10","4"],[-1,"\u221210","5"]];
lYLabelRows.forEach(row => {
  const ly = 537.3 - row[0] * 76.2 + 3.6;
  const t = make("text", {x: 644, y: ly, "text-anchor": "end", "font-size": 10.5, fill: "#333"}, root);
  
  
  t.appendChild(document.createTextNode(row[1]));
  if (row[2]) {
    const s = make("tspan", {dy: -4.5, "font-size": 8}, t);
    s.textContent = row[2];
  }
});
const lThirty = make("text", {x: 785.5, y: 638.7, "text-anchor": "middle", "font-size": 10.5, fill: "#333"}, root);


lThirty.textContent = "30";

/* Panel K y labels */
kYTicks.forEach((v, n) => {
  const t = make("text", {x: 425, y: 572.3 - v * .4225 + 3.6, "text-anchor": "end", "font-size": 10.5, fill: "#333"}, root);
  
  
  t.textContent = kYTickLabels[n];
});
</script>
</body>
</html>
